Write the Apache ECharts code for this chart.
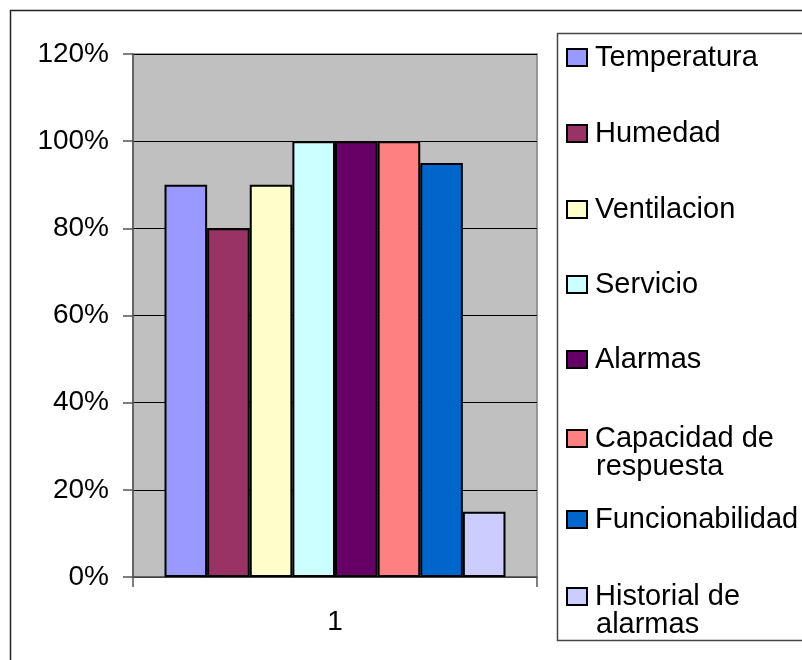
<!DOCTYPE html>
<html>
<head>
<meta charset="utf-8">
<script src="https://cdn.jsdelivr.net/npm/echarts@6/dist/echarts.min.js"></script>
<style>html,body{margin:0;padding:0;background:#fff}#c{width:802px;height:660px}</style>
</head>
<body>
<div id="c"></div>
<script>
const categories = ['1'];
const seriesNames = ['Temperatura', 'Humedad', 'Ventilacion', 'Servicio', 'Alarmas', 'Capacidad de respuesta', 'Funcionabilidad', 'Historial de alarmas'];
const legendFirstLines = ['Temperatura', 'Humedad', 'Ventilacion', 'Servicio', 'Alarmas', 'Capacidad de', 'Funcionabilidad', 'Historial de'];
const legendSecondLines = ['', '', '', '', '', 'respuesta', '', 'alarmas'];
const seriesValues = [90, 80, 90, 100, 100, 100, 95, 15];
const seriesColors = ['#9999FF', '#993366', '#FFFFCC', '#CCFFFF', '#660066', '#FF8080', '#0066CC', '#CCCCFF'];
const legendCenters = [57, 133, 209, 284, 359, 438, 519, 596];

const FONT = '"Liberation Sans", Arial, sans-serif';
const LEG_FS = 29;
const LEG_LH = 28;
const chart = echarts.init(document.getElementById('c'));

const legends = seriesNames.map((name, i) => ({
  data: [name],
  left: 566,
  top: legendCenters[i] - LEG_LH / 2,
  padding: 0,
  orient: 'vertical',
  itemWidth: 20,
  itemHeight: 17,
  itemGap: 0,
  icon: 'rect',
  selectedMode: false,
  formatter: () => legendFirstLines[i],
  textStyle: { fontFamily: FONT, fontSize: LEG_FS, lineHeight: LEG_LH, color: '#000', padding: [0, 0, 0, 3] }
}));

const secondLineTexts = [];
legendSecondLines.forEach((t, i) => {
  if (t) {
    secondLineTexts.push({
      type: 'text', left: 596, top: legendCenters[i] + LEG_LH - LEG_LH / 2,
      style: { text: t, font: LEG_FS + 'px ' + FONT, fill: '#000', lineHeight: LEG_LH, textVerticalAlign: 'top' }
    });
  }
});

chart.setOption({
  animation: false,
  backgroundColor: '#fff',
  graphic: [
    { type: 'rect', shape: { x: 10.5, y: 10.5, width: 820, height: 700 }, style: { fill: 'none', stroke: '#222', lineWidth: 1.5 }, z: -10 },
    { type: 'rect', shape: { x: 557.5, y: 33.5, width: 260, height: 607 }, style: { fill: '#fff', stroke: '#444', lineWidth: 1.5 }, z: -5 },
    { type: 'rect', shape: { x: 133, y: 54, width: 404, height: 523 }, style: { fill: '#C0C0C0', stroke: '#808080', lineWidth: 1.5 }, z: -4 }
  ].concat(secondLineTexts),
  legend: legends,
  grid: { left: 133, top: 54, width: 404, height: 523, containLabel: false },
  xAxis: {
    type: 'category',
    data: categories,
    boundaryGap: true,
    axisLine: { show: true, lineStyle: { color: '#555', width: 1.5 } },
    axisTick: { show: true, length: 10, lineStyle: { color: '#555', width: 1.5 } },
    axisLabel: { fontFamily: FONT, fontSize: 28, color: '#000', margin: 31 },
    splitLine: { show: false }
  },
  yAxis: {
    type: 'value',
    min: 0,
    max: 120,
    interval: 20,
    axisLine: { show: true, lineStyle: { color: '#555', width: 1.5 } },
    axisTick: { show: true, length: 10, lineStyle: { color: '#555', width: 1.5 } },
    axisLabel: { fontFamily: FONT, fontSize: 28, color: '#000', margin: 24, formatter: '{value}%' },
    splitLine: { show: true, lineStyle: { color: '#000', width: 1 } }
  },
  series: seriesNames.map((name, i) => ({
    name: name,
    type: 'bar',
    data: [seriesValues[i]],
    barGap: '0%',
    barCategoryGap: '15.6%',
    itemStyle: { color: seriesColors[i], borderColor: '#000', borderWidth: 2 }
  }))
});
</script>
</body>
</html>
